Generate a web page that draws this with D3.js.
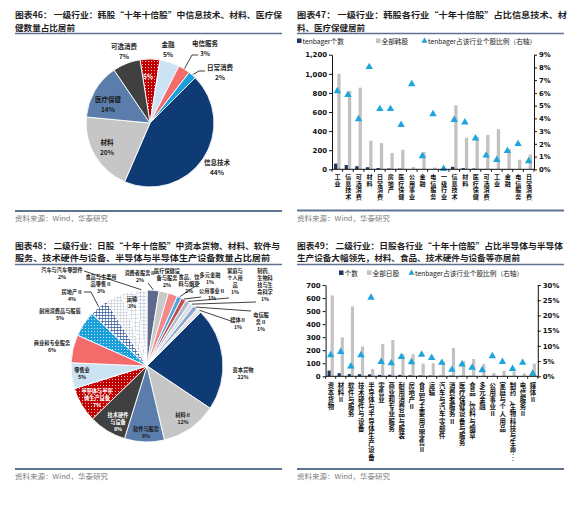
<!DOCTYPE html>
<html>
<head>
<meta charset="utf-8">
<script src="https://cdn.jsdelivr.net/npm/d3@7"></script>
<style>
  body { margin: 0; background: #fff; }
  svg text { font-family: "Noto Sans CJK SC", "Noto Sans", sans-serif; }
  .num text { font-family: "DejaVu Sans", sans-serif; font-weight: bold; }
</style>
</head>
<body>
<div id="chart"></div>
<script>
// ---------- data: Korea ----------
// 图表46 pie, clockwise from the top
const krPieNames  = ["工业", "金融", "电信服务", "日常消费", "信息技术", "材料", "医疗保健", "可选消费"];
const krPieShares = [5, 5, 3, 2, 44, 20, 14, 7];

// 图表47 bars
const krCats      = ["工业","信息技术","可选消费","材料","日常消费","房地产","医疗保健","公用事业","金融","电信服务",
                     "一级行业","信息技术","材料","医疗保健","可选消费","工业","金融","电信服务","日常消费"];
const krTenbagger = [60, 45, 33, 22, 13, 8, 7, 2, 2, 1, 0, 26, 12, 8, 4, 3, 3, 2, 1];
const krAll       = [1000, 820, 855, 300, 275, 170, 205, 25, 180, 18, 0, 670, 330, 340, 360, 420, 215, 100, 155];
const krRatio     = [6.1, 5.8, 3.9, 8.0, 4.7, 4.7, 3.45, 6.65, 1.0, 4.3, 0, 3.85, 3.65, 2.4, 1.05, 0.7, 1.4, 1.95, 0.6];
const krLeftTicks  = [0, 200, 400, 600, 800, 1000, 1200];
const krRightTicks = [0, 1, 2, 3, 4, 5, 6, 7, 8, 9];

// ---------- data: Japan (图表48 pie uses jpTenbagger) ----------
const jpCats      = ["资本货物","材料Ⅱ","软件与服务","技术硬件与设备","半导体与半导体生产设备","零售业","商业和专业服务",
                     "耐用消费品与服装","房地产Ⅱ","食品与主要用品零售Ⅱ","运输","汽车与汽车零部件","消费者服务Ⅱ",
                     "医疗保健设备与服务","食品、饮料与烟草","多元金融","公用事业Ⅱ","家庭与个人用品",
                     "制药、生物科技与生命…","电信服务Ⅱ","媒体Ⅱ"];
const jpTenbagger = [44, 24, 17, 16, 15, 11, 12, 11, 8, 7, 6, 5, 5, 4, 4, 2, 2, 2, 2, 2, 2];
const jpAll       = [620, 298, 535, 228, 56, 248, 278, 171, 170, 97, 100, 112, 217, 118, 133, 95, 26, 41, 36, 22, 97];
const jpRatio     = [6.8, 7.9, 3.1, 6.8, 25.7, 4.6, 4.2, 6.2, 4.5, 7.0, 5.9, 4.3, 2.0, 3.8, 2.7, 1.9, 6.5, 4.6, 2.3, 4.3, 0.7];
const jpLeftTicks  = [0, 100, 200, 300, 400, 500, 600, 700];
const jpRightTicks = [0, 5, 10, 15, 20, 25, 30];

// ---------- colours ----------
const NAVY = "#0f3b74", LGRAY = "#c6c6c6", STEEL = "#5a7dab", DGRAY = "#404040",
      LBLUE = "#cbe3f3", SALMON = "#f36b6b", BRIGHT = "#1b9fdb",
      BAR_DARK = "#1f3763", BAR_GRAY = "#c2c2c2", TRI = "#1ea4de", RULE = "#5f7291";

const svg = d3.select("#chart").append("svg").attr("width", 581).attr("height", 508);
const defs = svg.append("defs");

function dotPattern(id, bg) {
  const p = defs.append("pattern").attr("id", id).attr("width", 3).attr("height", 3)
    .attr("patternUnits", "userSpaceOnUse");
  p.append("rect").attr("width", 3).attr("height", 3).attr("fill", bg);
  p.append("circle").attr("cx", 1.5).attr("cy", 1.5).attr("r", 0.5).attr("fill", "#fff");
}
function gridPattern(id, line, s, w) {
  const p = defs.append("pattern").attr("id", id).attr("width", s).attr("height", s)
    .attr("patternUnits", "userSpaceOnUse");
  p.append("rect").attr("width", s).attr("height", s).attr("fill", "#fff");
  p.append("path").attr("d", `M0 0H${s}M0 0V${s}`).attr("stroke", line).attr("stroke-width", w);
}
dotPattern("dotRed", "#c00000");
dotPattern("dotBlue", BRIGHT);
gridPattern("chkNavy", "#2e5597", 3, 1.3);
gridPattern("chkGray", "#b9c0cc", 3, 1);
gridPattern("gridLt", "#a9b7cc", 4, 0.8);
gridPattern("gridBl", "#7f95bb", 3.5, 0.7);

// ---------- frame: titles, rules, source ----------
function frame(x, x2, y0, lines, widths, ruleY, footY) {
  lines.forEach((t, i) => {
    svg.append("text").attr("x", x).attr("y", y0 + i * 12.5)
      .attr("font-size", 8.2).attr("font-weight", 700).attr("fill", "#1e1e1e")
      .attr("textLength", widths[i]).attr("lengthAdjust", "spacingAndGlyphs").text(t);
  });
  svg.append("line").attr("x1", x).attr("x2", x2).attr("y1", ruleY).attr("y2", ruleY)
    .attr("stroke", RULE).attr("stroke-width", 1.3);
  svg.append("line").attr("x1", x).attr("x2", x2).attr("y1", footY).attr("y2", footY)
    .attr("stroke", RULE).attr("stroke-width", 2);
  svg.append("text").attr("x", x).attr("y", footY + 10).attr("font-size", 6.4)
    .attr("fill", "#7a7a7a").attr("textLength", 93).attr("lengthAdjust", "spacingAndGlyphs")
    .text("资料来源：Wind，华泰研究");
}
frame(15, 282, 18, ["图表46：  一级行业：韩股“十年十倍股”中信息技术、材料、医疗保", "健数量占比居前"], [267, 60], 33.5, 211);
frame(297, 564, 18, ["图表47：  一级行业：韩股各行业“十年十倍股”占比信息技术、材", "料、医疗保健居前"], [270, 68], 33.5, 210.5);
frame(15, 282, 248.5, ["图表48：  二级行业：日股“十年十倍股”中资本货物、材料、软件与", "服务、技术硬件与设备、半导体与半导体生产设备数量占比居前"], [265, 255], 264.5, 469);
frame(297, 564, 248.5, ["图表49：  二级行业：日股各行业“十年十倍股”占比半导体与半导体", "生产设备大幅领先，材料、食品、技术硬件与设备等亦居前"], [266, 223], 264.5, 469);

// ---------- pie helper ----------
function drawPie(cx, cy, r, values, fills, startDeg) {
  const a0 = startDeg * Math.PI / 180;
  const arcs = d3.pie().sort(null).startAngle(a0).endAngle(a0 + 2 * Math.PI)(values);
  const arc = d3.arc().innerRadius(0).outerRadius(r);
  const g = svg.append("g").attr("transform", `translate(${cx},${cy})`);
  g.selectAll("path").data(arcs).join("path")
    .attr("d", arc).attr("fill", (d, i) => fills[i])
    .attr("stroke", "#fff").attr("stroke-width", 0.9);
  // point on the rim at the middle of a slice, page coordinates
  return i => {
    const a = (arcs[i].startAngle + arcs[i].endAngle) / 2;
    return [cx + (r + 0.5) * Math.sin(a), cy - (r + 0.5) * Math.cos(a)];
  };
}
// one text element per line
function label(x, y, lines, size, color, step) {
  lines.forEach((s, i) => svg.append("text").attr("x", x).attr("y", y + i * step)
    .attr("font-size", size).attr("font-weight", 700).attr("fill", color)
    .attr("text-anchor", "middle").text(s));
}
function leader(pts) {
  svg.append("polyline").attr("points", pts.map(p => p.join(",")).join(" "))
    .attr("fill", "none").attr("stroke", "#111").attr("stroke-width", 0.8);
}

// ---------- 图表46 ----------
const pie46Fill = ["url(#dotRed)", LBLUE, SALMON, BRIGHT, NAVY, LGRAY, STEEL, DGRAY];
const rim46 = drawPie(150, 123, 64, krPieShares, pie46Fill, -9);
const pct46 = krPieShares.map(v => v + "%");
const F46 = 6.5, S46 = 9.6;
label(124, 49, ["可选消费", pct46[7]], F46, "#222", S46);
label(168, 47, ["金融", pct46[1]], F46, "#222", S46);
label(205, 46, ["电信服务", pct46[2]], F46, "#222", S46);
label(220, 70, ["日常消费", pct46[3]], F46, "#222", S46);
label(148, 79, [pct46[0]], F46, "#fff", S46);
label(108, 102, ["医疗保健", pct46[6]], F46, "#1a1a1a", S46);
label(107, 145, ["材料", pct46[5]], F46, "#1a1a1a", S46);
label(217, 165, ["信息技术", pct46[4]], F46, "#1a1a1a", S46);
leader([[198, 55], [192, 55], rim46(2)]);
leader([[205, 71], [199, 71], rim46(3)]);

// ---------- 图表48 ----------
const pie48Fill = [NAVY, LGRAY, STEEL, DGRAY, "url(#dotRed)", LBLUE, SALMON, "url(#dotBlue)",
                   "url(#chkNavy)", "url(#chkGray)", "url(#gridLt)", "url(#gridBl)", "#5d6a8e",
                   "#c9c9c9", "#f4898a", "#4ea6de", "#c0504d", "#aeb9ca", "#d8e1ed", "#8fa8cb", "#e4e4e4"];
const rim48 = drawPie(147, 366, 76, jpTenbagger, pie48Fill, 45);
const tot48 = d3.sum(jpTenbagger);
const p48 = jpTenbagger.map(v => Math.round(v / tot48 * 100) + "%");
const S = 5.2, ST = 6.9;
label(243, 372, ["资本货物", p48[0]], S, "#1a1a1a", ST);
label(183, 417, ["材料Ⅱ", p48[1]], S, "#1a1a1a", ST);
label(146, 431, ["软件与服务", p48[2]], S, "#1a1a1a", ST);
label(118, 417, ["技术硬件", "与设备", p48[3]], S, "#fff", ST);
label(97, 393, ["半导体与半导", "体生产设备", p48[4]], S, "#fff", ST);
label(82, 372, ["零售业", p48[5]], S, "#1a1a1a", ST);
label(52, 345, ["商业和专业服务", p48[6]], S, "#1a1a1a", ST);
label(60, 313, ["耐用消费品与服装", p48[7]], S, "#1a1a1a", ST);
label(72, 294, ["房地产Ⅱ", p48[8]], S, "#1a1a1a", ST);
label(101, 279, ["食品与主要用", "品零售Ⅱ", p48[9]], S, "#1a1a1a", ST);
label(132, 301, ["运输", p48[10]], S, "#1a1a1a", ST);
label(62, 272, ["汽车与汽车零部件", p48[11]], S, "#1a1a1a", ST);
label(140, 275, ["消费者服务Ⅱ", p48[12]], S, "#1a1a1a", ST);
label(167, 273, ["医疗保健设", "备与服务", p48[13]], S, "#1a1a1a", ST);
label(189, 279, ["食品、饮", "料与烟草", p48[14]], S, "#1a1a1a", ST);
label(210, 277, ["多元金融", p48[15]], S, "#1a1a1a", ST);
label(212, 293, ["公用事业Ⅱ", p48[16]], S, "#1a1a1a", ST);
label(235, 273, ["家庭与", "个人用", "品", p48[17]], S, "#1a1a1a", ST);
label(265, 273, ["制药、", "生物科", "技与生", "命科学", p48[18]], S, "#1a1a1a", ST);
label(261, 317, ["电信服", "务Ⅱ", p48[19]], S, "#1a1a1a", ST);
label(238, 322, ["媒体Ⅱ", p48[20]], S, "#1a1a1a", ST);
leader([[84, 271], rim48(11)]);
leader([[84, 292], [91, 292], rim48(8)]);
leader([[148, 283], rim48(12)]);
leader([[200, 283], rim48(15)]);
leader([[201, 297], rim48(16)]);
leader([[229, 298], rim48(17)]);
leader([[256, 302], rim48(18)]);
leader([[251, 311], rim48(19)]);
leader([[231, 321], rim48(20)]);

// ---------- bar panels ----------
function barPanel(o) {
  const g = svg.append("g");
  const x = d3.scaleBand().domain(d3.range(o.cats.length)).range([o.x0, o.x1]);
  const y = d3.scaleLinear().domain([0, d3.max(o.leftTicks)]).range([o.yB, o.yT]);
  const yr = d3.scaleLinear().domain([0, d3.max(o.rightTicks)]).range([o.yB, o.yT]);
  const bw = x.bandwidth() * 0.31;
  const mid = i => x(i) + x.bandwidth() / 2;

  g.append("g").selectAll("rect").data(o.all).join("rect")
    .attr("x", (d, i) => mid(i)).attr("y", d => y(d))
    .attr("width", bw).attr("height", d => o.yB - y(d)).attr("fill", BAR_GRAY);
  g.append("g").selectAll("rect").data(o.ten).join("rect")
    .attr("x", (d, i) => mid(i) - bw).attr("y", d => y(d))
    .attr("width", bw).attr("height", d => o.yB - y(d)).attr("fill", BAR_DARK);
  g.append("g").selectAll("path").data(o.ratio).join("path")
    .attr("d", d3.symbol(d3.symbolTriangle, 24))
    .attr("transform", (d, i) => `translate(${mid(i)},${yr(d) - 0.5})`).attr("fill", TRI);

  const left = g.append("g").attr("class", "num").attr("transform", `translate(${o.x0},0)`)
    .call(d3.axisLeft(y).tickValues(o.leftTicks).tickSize(3).tickSizeOuter(0)
      .tickPadding(2).tickFormat(d3.format(",")));
  const right = g.append("g").attr("class", "num").attr("transform", `translate(${o.x1},0)`)
    .call(d3.axisRight(yr).tickValues(o.rightTicks).tickSize(3).tickSizeOuter(0)
      .tickPadding(2).tickFormat(d => d + "%"));
  [left, right].forEach(a => {
    a.selectAll("text").attr("font-size", 6.9).attr("fill", "#111");
    a.selectAll("line,path").attr("stroke", "#111");
  });

  // category axis with ticks between bands
  const bx = g.append("g");
  bx.append("line").attr("x1", o.x0).attr("x2", o.x1).attr("y1", o.yB).attr("y2", o.yB)
    .attr("stroke", "#111");
  bx.selectAll("line.t").data(d3.range(o.cats.length + 1)).join("line").attr("class", "t")
    .attr("x1", i => o.x0 + i * x.step()).attr("x2", i => o.x0 + i * x.step())
    .attr("y1", o.yB).attr("y2", o.yB + 2.5).attr("stroke", "#111");
  // vertical category names, one character per text element
  const chars = o.cats.flatMap((d, i) =>
    Array.from(d.replace("…", "︙")).map((c, k) => ({ c, i, k })));
  bx.selectAll("text").data(chars).join("text")
    .attr("x", d => mid(d.i) + 0.3).attr("y", d => o.labY + d.k * o.step)
    .attr("font-size", o.fs).attr("font-weight", 700).attr("fill", "#111")
    .attr("text-anchor", "middle").text(d => d.c);

  // legend
  const lg = g.append("g").attr("font-size", 6.7).attr("fill", "#1a1a1a");
  lg.append("rect").attr("x", o.leg[0]).attr("y", o.legY - 5).attr("width", 4.5).attr("height", 4.5).attr("fill", BAR_DARK);
  lg.append("text").attr("x", o.leg[0] + 5.5).attr("y", o.legY).text(o.legText[0]);
  lg.append("rect").attr("x", o.leg[1]).attr("y", o.legY - 5).attr("width", 4.5).attr("height", 4.5).attr("fill", BAR_GRAY);
  lg.append("text").attr("x", o.leg[1] + 5.5).attr("y", o.legY).text(o.legText[1]);
  lg.append("path").attr("d", d3.symbol(d3.symbolTriangle, 16))
    .attr("transform", `translate(${o.leg[2] + 2.5},${o.legY - 2.6})`).attr("fill", TRI);
  lg.append("text").attr("x", o.leg[2] + 6).attr("y", o.legY).text(o.legText[2]);
}

barPanel({
  cats: krCats, ten: krTenbagger, all: krAll, ratio: krRatio,
  leftTicks: krLeftTicks, rightTicks: krRightTicks,
  x0: 332, x1: 534, yT: 54.7, yB: 169.3,
  fs: 6.1, labY: 179, step: 6.6,
  leg: [297, 376, 422], legY: 43.5,
  legText: ["tenbager个数", "全部韩股", "tenbager占该行业个股比例（右轴）"]
});
barPanel({
  cats: jpCats, ten: jpTenbagger, all: jpAll, ratio: jpRatio,
  leftTicks: jpLeftTicks, rightTicks: jpRightTicks,
  x0: 325.6, x1: 537.8, yT: 285, yB: 376.3,
  fs: 6.4, labY: 387.5, step: 7.2,
  leg: [339, 367, 409], legY: 275.5,
  legText: ["个数", "全部日股", "tenbager占该行业个股比例（右轴）"]
});
</script>
</body>
</html>
